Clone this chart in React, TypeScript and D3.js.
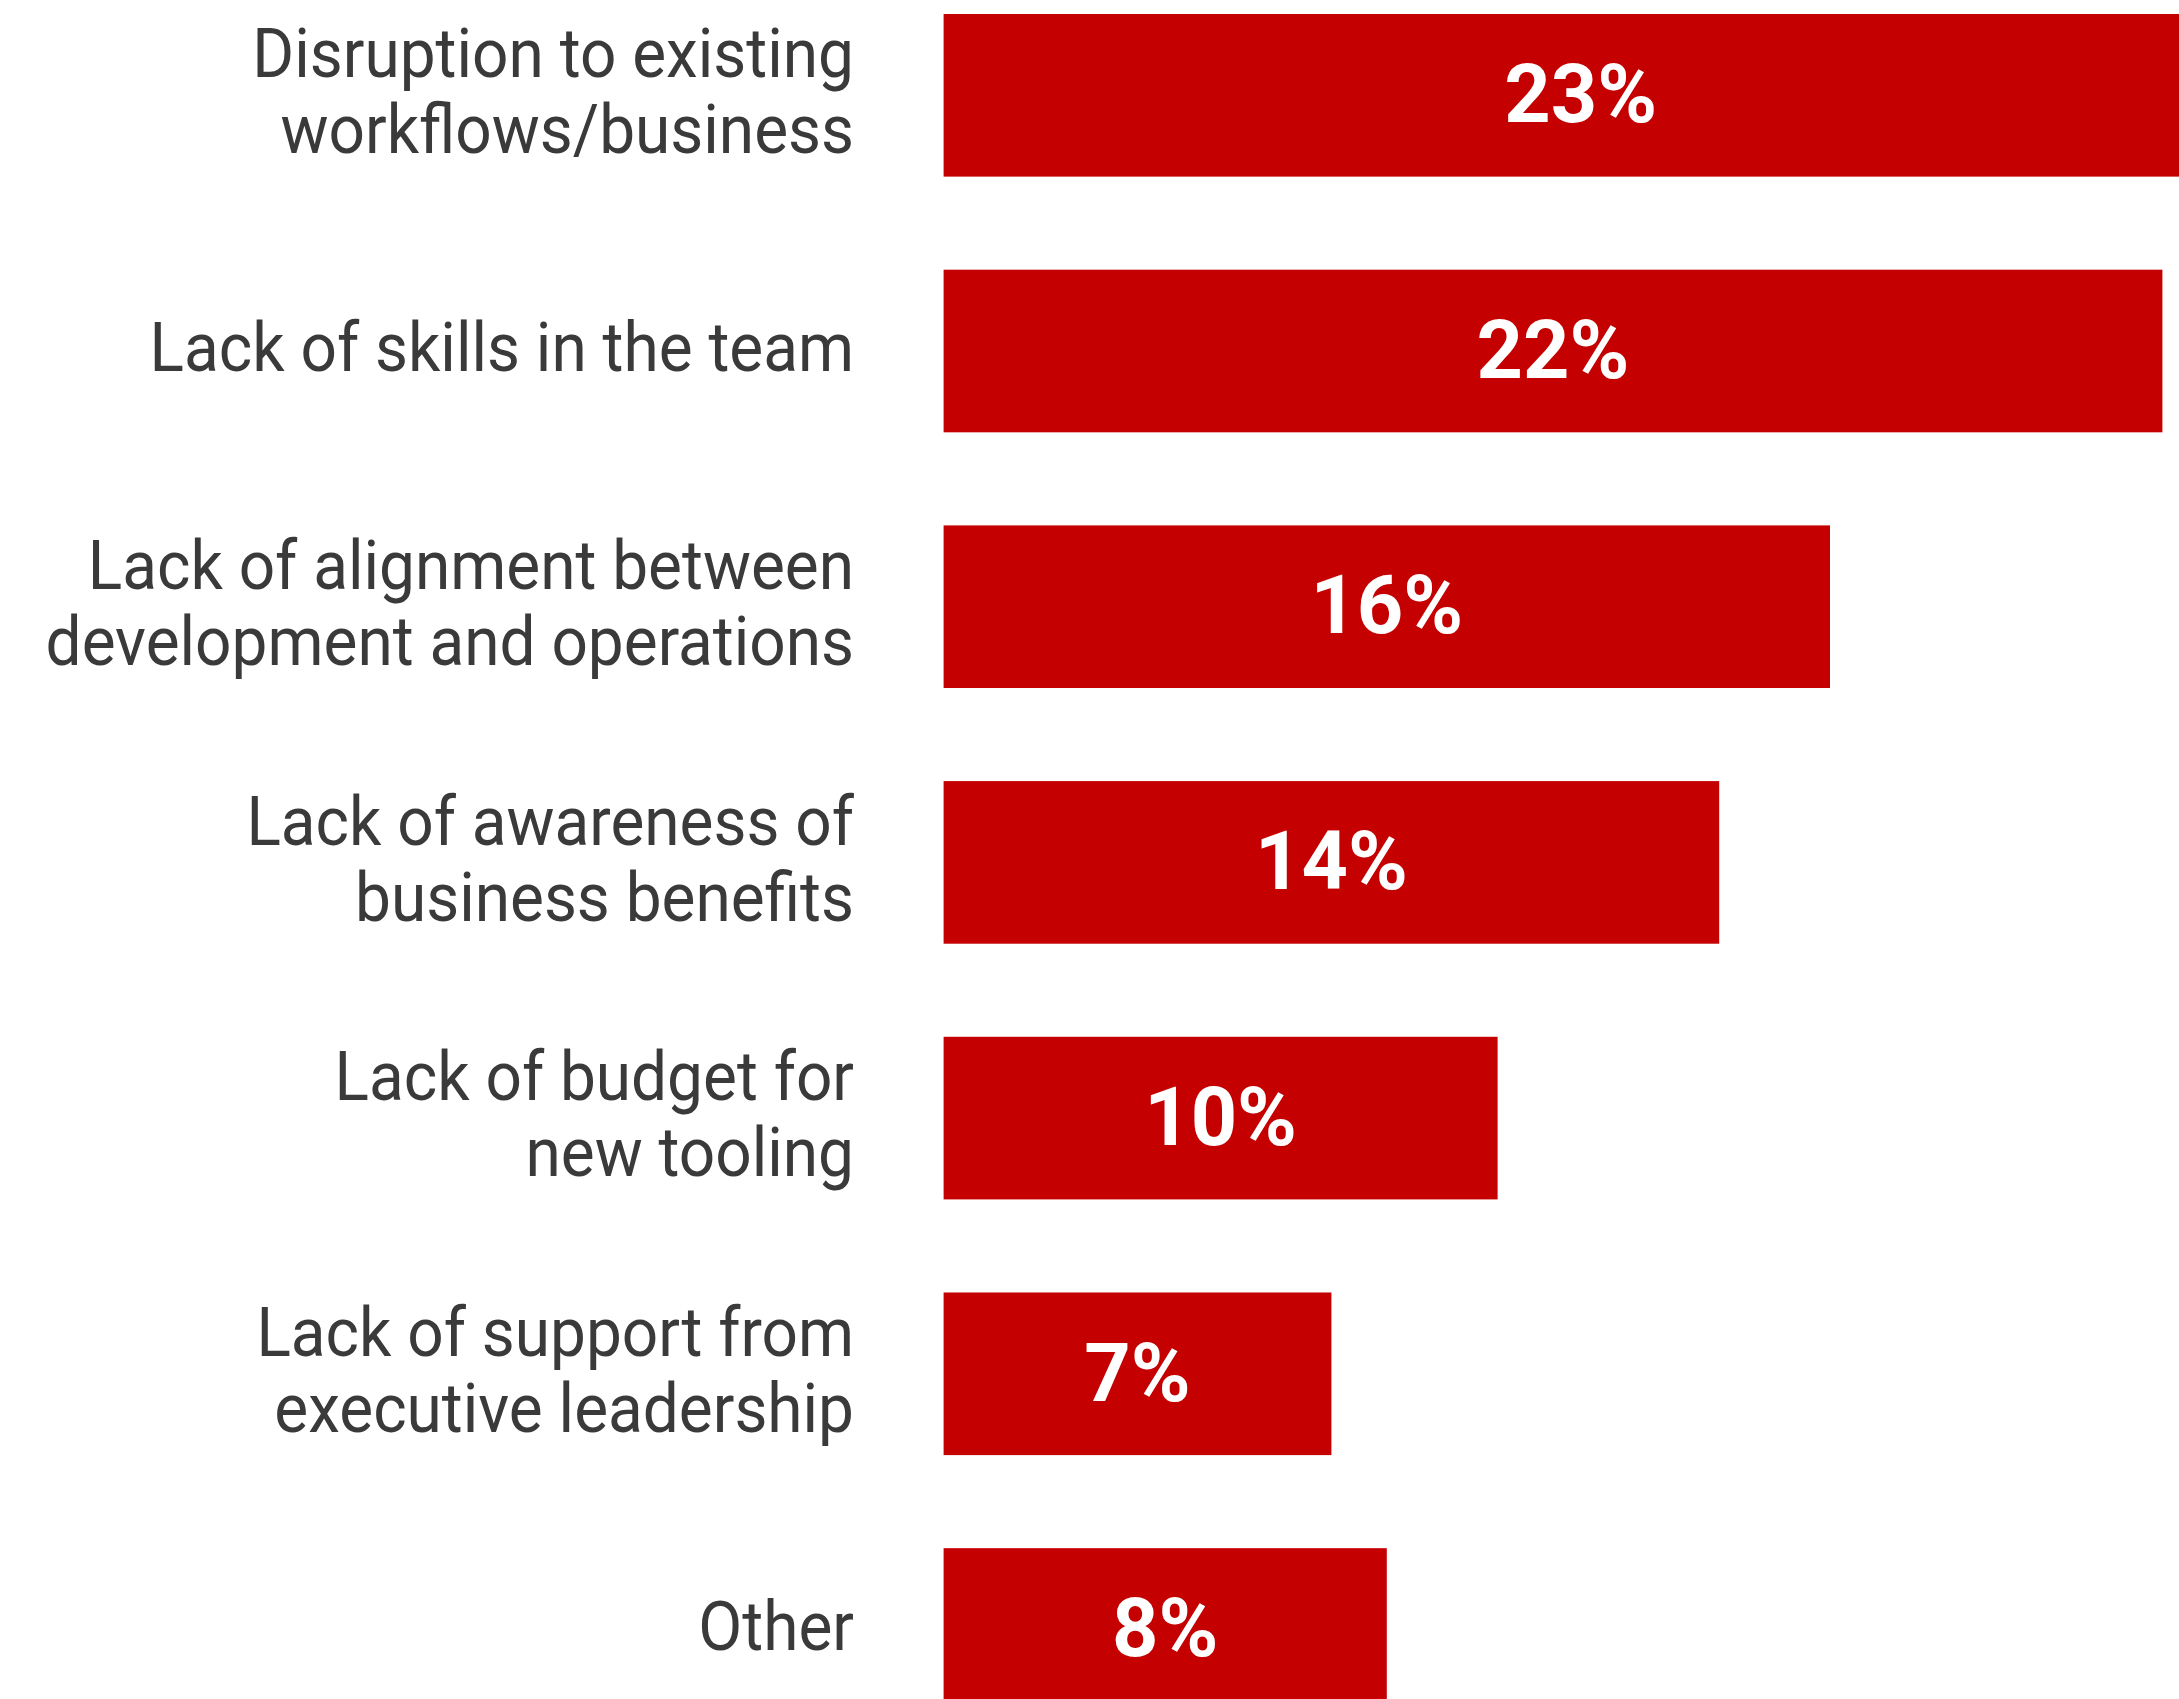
import React from "react";
import * as d3 from "d3";

const categories: string[][] = [
  ["Disruption to existing", "workflows/business"],
  ["Lack of skills in the team"],
  ["Lack of alignment between", "development and operations"],
  ["Lack of awareness of", "business benefits"],
  ["Lack of budget for", "new tooling"],
  ["Lack of support from", "executive leadership"],
  ["Other"],
];
const values: number[] = [23, 22, 16, 14, 10, 7, 8];
const valueLabels: string[] = ["23%", "22%", "16%", "14%", "10%", "7%", "8%"];

const W = 2179;
const H = 1699;

export default function App() {
  const keys = categories.map((c) => c.join(" "));
  const x = d3.scaleLinear().domain([0, 23]).range([943.6, 943.6 + 23 * 55.4]);
  const y = d3
    .scaleBand<string>()
    .domain(keys)
    .range([14, 1710.8])
    .paddingInner(0.364)
    .paddingOuter(0);

  const labelFs = 68;
  const lineH = 76;
  const capL = 0.711 * labelFs;
  const valFs = 81;
  const capV = 0.711 * valFs;
  const labelX = 854;

  return (
    <svg
      width={W}
      height={H}
      style={{ position: "absolute", left: 0, top: 0, overflow: "hidden", background: "#fff" }}
    >
      {keys.map((k, i) => {
        const y0 = y(k)!;
        const cy = y0 + y.bandwidth() / 2;
        const lines = categories[i];
        return (
          <g key={k}>
            <rect x={x(0)} y={y0} width={x(values[i]) - x(0)} height={y.bandwidth()} fill="#c40000" />
            <g transform={`translate(${labelX},0) scale(0.94,1)`}>
              {lines.map((ln, j) => (
                <text
                  key={j}
                  x={0}
                  y={cy - 4 + (j - (lines.length - 1) / 2) * lineH + capL / 2}
                  textAnchor="end"
                  fontFamily="Roboto"
                  fontSize={labelFs}
                  fill="#3a3a3a"
                >
                  {ln}
                </text>
              ))}
            </g>
            <text
              x={(x(0) + x(values[i])) / 2}
              y={cy - 2 + capV / 2}
              textAnchor="middle"
              fontFamily="Roboto"
              fontWeight="bold"
              fontSize={valFs}
              fill="#ffffff"
            >
              {valueLabels[i]}
            </text>
          </g>
        );
      })}
    </svg>
  );
}
